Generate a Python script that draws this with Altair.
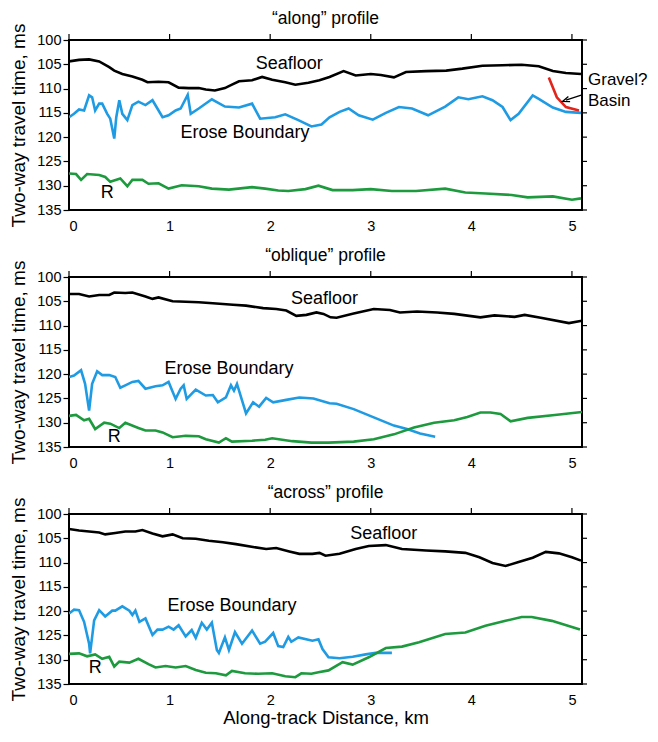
import altair as alt
import pandas as pd

FONT = "Liberation Sans"

# ---------------- "along" profile ----------------
along_sea_x = [0, 0.1, 0.2, 0.3, 0.4, 0.45, 0.53, 0.63, 0.73, 0.78, 0.89, 0.99, 1.09, 1.19, 1.29, 1.36, 1.45, 1.55, 1.62, 1.69, 1.82, 1.92, 2.02, 2.15, 2.25, 2.38, 2.49, 2.59, 2.73, 2.85, 3.0, 3.1, 3.23, 3.35, 3.55, 3.75, 3.91, 4.11, 4.31, 4.5, 4.67, 4.81, 4.94, 5.09]
along_sea_y = [104.4, 104.1, 104.0, 104.4, 105.6, 106.3, 107.0, 107.5, 108.2, 108.7, 108.6, 108.7, 109.8, 109.9, 109.9, 110.2, 110.4, 109.9, 109.2, 108.5, 108.3, 107.6, 108.2, 108.7, 109.2, 108.8, 108.3, 107.6, 106.4, 107.3, 107.0, 107.2, 107.7, 106.6, 106.4, 106.3, 105.9, 105.3, 105.2, 105.1, 105.4, 106.4, 106.8, 107.0]

along_erose_x = [0, 0.05, 0.1, 0.15, 0.2, 0.23, 0.26, 0.3, 0.33, 0.38, 0.41, 0.45, 0.47, 0.5, 0.53, 0.58, 0.63, 0.69, 0.76, 0.83, 0.93, 0.99, 1.06, 1.11, 1.18, 1.21, 1.29, 1.42, 1.55, 1.69, 1.82, 1.9, 2.05, 2.15, 2.28, 2.41, 2.51, 2.59, 2.69, 2.78, 2.88, 3.02, 3.15, 3.28, 3.41, 3.57, 3.74, 3.87, 3.97, 4.11, 4.21, 4.31, 4.39, 4.47, 4.61, 4.67, 4.81, 4.94, 5.09]
along_erose_y = [115.9, 115.2, 114.3, 114.5, 111.4, 111.8, 114.5, 113.1, 113.1, 115.2, 116.2, 120.3, 115.9, 112.4, 115.2, 116.5, 113.4, 112.7, 113.4, 112.4, 115.9, 115.5, 114.5, 114.1, 111.3, 115.2, 114.1, 112.2, 113.7, 113.9, 113.1, 116.2, 115.9, 115.3, 116.5, 117.8, 117.4, 115.9, 114.8, 114.1, 115.5, 116.4, 115.0, 113.8, 114.1, 115.5, 113.7, 111.8, 112.2, 111.6, 112.4, 113.8, 116.5, 115.2, 111.4, 112.1, 113.9, 114.8, 115.0]

along_r_x = [0, 0.07, 0.12, 0.18, 0.3, 0.36, 0.41, 0.51, 0.58, 0.63, 0.73, 0.79, 0.89, 0.99, 1.12, 1.29, 1.42, 1.59, 1.82, 1.95, 2.08, 2.18, 2.35, 2.48, 2.62, 2.82, 3.0, 3.21, 3.45, 3.74, 3.94, 4.14, 4.4, 4.56, 4.81, 5.0, 5.09]
along_r_y = [127.5, 127.6, 128.8, 127.6, 127.8, 128.2, 129.2, 128.5, 130.1, 128.8, 128.8, 129.6, 129.5, 130.6, 129.9, 130.1, 130.6, 130.8, 130.3, 130.6, 131.0, 131.1, 130.7, 130.0, 130.9, 130.9, 130.7, 131.1, 131.1, 130.6, 131.4, 131.6, 131.9, 132.4, 132.2, 132.9, 132.6]

along_gravel_x = [4.77, 4.85, 4.94, 5.07]
along_gravel_y = [107.7, 111.8, 113.8, 114.5]

# ---------------- "oblique" profile ----------------
oblique_sea_x = [0, 0.1, 0.2, 0.3, 0.4, 0.45, 0.56, 0.63, 0.76, 0.83, 0.89, 1.03, 1.16, 1.29, 1.43, 1.63, 1.76, 1.93, 2.06, 2.16, 2.26, 2.36, 2.46, 2.53, 2.6, 2.66, 2.83, 3.03, 3.19, 3.29, 3.46, 3.66, 3.83, 4.09, 4.23, 4.43, 4.53, 4.69, 4.97, 5.1]
oblique_sea_y = [103.5, 103.5, 104.0, 103.7, 103.7, 103.2, 103.3, 103.2, 104.0, 104.5, 104.2, 105.0, 105.1, 105.2, 105.4, 105.7, 105.9, 106.4, 106.6, 106.9, 108.0, 107.8, 107.3, 107.6, 108.3, 108.4, 107.5, 106.6, 106.8, 107.3, 107.1, 107.3, 107.6, 108.3, 107.9, 108.2, 107.8, 108.4, 109.5, 109.0]

oblique_erose_x = [0, 0.05, 0.12, 0.16, 0.2, 0.23, 0.28, 0.33, 0.4, 0.46, 0.51, 0.56, 0.63, 0.69, 0.76, 0.86, 0.93, 0.99, 1.06, 1.11, 1.14, 1.17, 1.26, 1.36, 1.43, 1.48, 1.56, 1.61, 1.64, 1.67, 1.76, 1.83, 1.89, 1.96, 2.03, 2.16, 2.29, 2.43, 2.59, 2.66, 2.83, 3.03, 3.23, 3.36, 3.49, 3.64]
oblique_erose_y = [120.6, 120.3, 119.2, 122.0, 127.5, 122.0, 119.4, 120.2, 120.2, 120.6, 122.8, 122.3, 121.6, 121.4, 123.0, 122.5, 122.3, 121.6, 125.1, 123.0, 122.3, 125.1, 123.2, 124.4, 124.3, 125.8, 124.8, 122.3, 123.4, 122.0, 128.1, 125.8, 126.7, 124.9, 125.8, 125.3, 124.8, 125.0, 126.0, 126.1, 127.2, 128.9, 130.6, 131.3, 132.2, 132.9]

oblique_r_x = [0, 0.07, 0.15, 0.2, 0.26, 0.35, 0.41, 0.5, 0.56, 0.69, 0.76, 0.86, 0.93, 1.03, 1.16, 1.29, 1.36, 1.49, 1.56, 1.62, 1.82, 1.95, 2.02, 2.22, 2.41, 2.58, 2.83, 3.03, 3.23, 3.43, 3.63, 3.83, 3.96, 4.09, 4.19, 4.29, 4.39, 4.56, 4.83, 5.1]
oblique_r_y = [128.6, 128.4, 129.5, 129.2, 131.3, 130.0, 130.2, 131.1, 130.0, 131.1, 131.6, 131.6, 132.0, 133.0, 132.7, 132.8, 133.4, 134.1, 133.2, 133.9, 133.7, 133.5, 133.2, 133.8, 134.1, 134.1, 133.9, 133.4, 132.4, 131.0, 130.0, 129.5, 128.8, 127.9, 127.9, 128.2, 129.7, 129.0, 128.4, 127.8]

# ---------------- "across" profile ----------------
across_sea_x = [0, 0.1, 0.2, 0.3, 0.36, 0.46, 0.56, 0.66, 0.73, 0.83, 0.93, 1.03, 1.13, 1.26, 1.39, 1.53, 1.66, 1.83, 1.96, 2.06, 2.19, 2.29, 2.42, 2.49, 2.55, 2.69, 2.85, 2.98, 3.15, 3.31, 3.55, 3.74, 3.94, 4.08, 4.21, 4.34, 4.47, 4.61, 4.74, 4.87, 5.0, 5.09]
across_sea_y = [103.1, 103.4, 103.6, 103.8, 104.2, 103.9, 103.6, 103.6, 103.3, 104.0, 104.6, 104.2, 105.0, 105.1, 105.5, 105.8, 106.2, 106.8, 107.2, 107.0, 107.7, 108.2, 108.2, 108.0, 108.6, 108.2, 107.2, 106.6, 106.4, 107.2, 107.5, 107.7, 108.0, 108.9, 110.1, 110.7, 109.9, 109.0, 107.8, 108.1, 108.9, 109.6]

across_erose_x = [0, 0.05, 0.1, 0.15, 0.2, 0.21, 0.25, 0.3, 0.36, 0.43, 0.46, 0.53, 0.6, 0.63, 0.66, 0.7, 0.76, 0.83, 0.88, 0.93, 0.99, 1.04, 1.09, 1.16, 1.22, 1.26, 1.32, 1.37, 1.42, 1.47, 1.49, 1.55, 1.59, 1.65, 1.72, 1.82, 1.9, 1.95, 2.03, 2.08, 2.13, 2.18, 2.21, 2.28, 2.42, 2.48, 2.52, 2.58, 2.69, 2.82, 2.95, 3.05, 3.21]
across_erose_y = [120.5, 119.7, 119.8, 122.2, 126.7, 128.7, 121.9, 119.8, 121.1, 119.9, 119.9, 119.0, 119.9, 120.8, 119.9, 122.2, 121.5, 124.9, 123.8, 123.8, 123.2, 123.8, 122.9, 125.2, 123.9, 125.5, 122.4, 123.8, 122.4, 128.0, 128.6, 125.4, 128.0, 124.3, 126.7, 124.0, 126.7, 126.3, 124.5, 127.2, 127.4, 125.3, 126.3, 125.4, 126.1, 125.8, 127.8, 129.5, 129.7, 129.4, 128.9, 128.6, 128.6]

across_r_x = [0, 0.1, 0.18, 0.26, 0.33, 0.4, 0.45, 0.5, 0.6, 0.69, 0.79, 0.86, 0.96, 1.06, 1.16, 1.26, 1.36, 1.46, 1.56, 1.62, 1.75, 1.88, 2.02, 2.15, 2.25, 2.31, 2.41, 2.48, 2.58, 2.72, 2.82, 2.98, 3.15, 3.31, 3.48, 3.74, 3.94, 4.14, 4.34, 4.5, 4.6, 4.8, 5.08]
across_r_y = [128.8, 128.7, 129.3, 128.9, 129.8, 129.4, 131.4, 130.4, 130.6, 129.8, 130.9, 131.6, 131.3, 131.6, 131.3, 132.1, 132.7, 132.8, 133.2, 132.3, 132.8, 132.9, 132.8, 133.4, 133.6, 132.8, 132.9, 132.6, 132.2, 130.5, 131.0, 129.5, 127.6, 127.3, 126.4, 124.7, 124.4, 123.0, 122.0, 121.2, 121.2, 122.0, 123.8]

# ---------------- text labels ----------------
panel_titles = ["\u201calong\u201d profile", "\u201coblique\u201d profile", "\u201cacross\u201d profile"]
label_texts = ["Seafloor", "Erose Boundary", "R"]
along_label_x = [2.19, 1.75, 0.38]
along_label_y = [104.9, 119.2, 131.6]
oblique_label_x = [2.54, 1.59, 0.45]
oblique_label_y = [104.6, 118.9, 133.0]
across_label_x = [3.13, 1.62, 0.26]
across_label_y = [104.2, 119.0, 131.7]
note_texts = ["Gravel?", "Basin"]
note_x = [5.16, 5.16]
note_y = [108.3, 112.5]
arrow_x = [5.10, 4.94]
arrow_y = [111.3, 112.4]

x_ticks = [0, 1, 2, 3, 4, 5]
y_ticks = [100, 105, 110, 115, 120, 125, 130, 135]

series_names = ["Seafloor", "Erose", "R", "Gravel"]
series_colors = ["#000000", "#1f9be3", "#1d9a3e", "#e3241b"]

W, H = 513, 170

x_scale = alt.Scale(domain=[0, 5.1], nice=False, zero=False)
y_scale = alt.Scale(domain=[100, 135], reverse=True, nice=False, zero=False)
color_scale = alt.Scale(domain=series_names, range=series_colors)


def lines_df(parts):
    frames = []
    for name, xs, ys in parts:
        frames.append(pd.DataFrame({"x": xs, "y": ys, "s": name}))
    return pd.concat(frames, ignore_index=True)


def panel(title, parts, lx, ly, x_title, notes=False):
    x_axis = alt.Axis(orient="bottom", values=x_ticks, ticks=False, domain=False,
                      grid=False, labelPadding=9, title=x_title, titlePadding=2,
                      titleFontSize=18.5, minExtent=0)
    y_axis = alt.Axis(orient="left", values=y_ticks, tickSize=6, domain=False,
                      grid=False, labelPadding=2, title="Two-way travel time, ms",
                      titlePadding=8)

    def xq():
        return alt.X("x:Q", scale=x_scale, axis=x_axis)

    def yq():
        return alt.Y("y:Q", scale=y_scale, axis=y_axis)

    df = lines_df(parts)
    lines = alt.Chart(df).mark_line(strokeWidth=2.6, clip=True).encode(
        x=xq(), y=yq(),
        color=alt.Color("s:N", scale=color_scale, legend=None),
        detail="s:N",
    )
    top_ticks = alt.Chart(pd.DataFrame({"x": x_ticks})).mark_rule(
        color="black", strokeWidth=1.2, clip=False
    ).encode(x=xq(), y=alt.value(0), y2=alt.value(-6))
    right_ticks = alt.Chart(pd.DataFrame({"y": y_ticks})).mark_rule(
        color="black", strokeWidth=1.2, clip=False
    ).encode(y=yq(), x=alt.value(W), x2=alt.value(W + 5))
    lab = alt.Chart(pd.DataFrame({"x": lx, "y": ly, "t": label_texts})).mark_text(
        font=FONT, fontSize=18, color="black", align="center", baseline="middle"
    ).encode(x=xq(), y=yq(), text="t:N")
    layers = [lines, top_ticks, right_ticks, lab]
    if notes:
        nt = alt.Chart(pd.DataFrame({"x": note_x, "y": note_y, "t": note_texts})).mark_text(
            font=FONT, fontSize=17, color="black", align="left", baseline="middle"
        ).encode(x=xq(), y=yq(), text="t:N")
        adf = pd.DataFrame({"x": arrow_x, "y": arrow_y})
        shaft = alt.Chart(adf).mark_line(color="black", strokeWidth=1.3, clip=False).encode(
            x=xq(), y=yq())
        head = alt.Chart(adf.iloc[[1]]).mark_point(
            shape="M 1 -0.75 L -1 0 L 1 0.75", filled=False, color="black",
            strokeWidth=1.3, size=50, angle=341, opacity=1
        ).encode(x=xq(), y=yq())
        layers += [nt, shaft, head]
    return alt.layer(*layers).properties(
        width=W, height=H,
        title=alt.TitleParams(title, fontSize=17.5, font=FONT, fontWeight="normal",
                              color="black", anchor="middle", offset=-4),
    )


p1 = panel(panel_titles[0],
           [("Seafloor", along_sea_x, along_sea_y), ("Erose", along_erose_x, along_erose_y),
            ("R", along_r_x, along_r_y), ("Gravel", along_gravel_x, along_gravel_y)],
           along_label_x, along_label_y, None, notes=True)
p2 = panel(panel_titles[1],
           [("Seafloor", oblique_sea_x, oblique_sea_y), ("Erose", oblique_erose_x, oblique_erose_y),
            ("R", oblique_r_x, oblique_r_y)],
           oblique_label_x, oblique_label_y, None)
p3 = panel(panel_titles[2],
           [("Seafloor", across_sea_x, across_sea_y), ("Erose", across_erose_x, across_erose_y),
            ("R", across_r_x, across_r_y)],
           across_label_x, across_label_y, "Along-track Distance, km")

chart = alt.vconcat(p1, p2, p3, spacing=11).configure(
    padding={"left": 0, "top": 0, "right": 0, "bottom": 0},
    background="white",
).configure_view(
    stroke="black", strokeWidth=2
).configure_axis(
    labelFont=FONT, labelFontSize=14.5, labelColor="black",
    titleFont=FONT, titleFontSize=19, titleFontWeight="normal", titleColor="black",
    tickColor="black", tickWidth=1.2,
)

chart.save("out.html", embed_options={"renderer": "svg", "actions": False})
